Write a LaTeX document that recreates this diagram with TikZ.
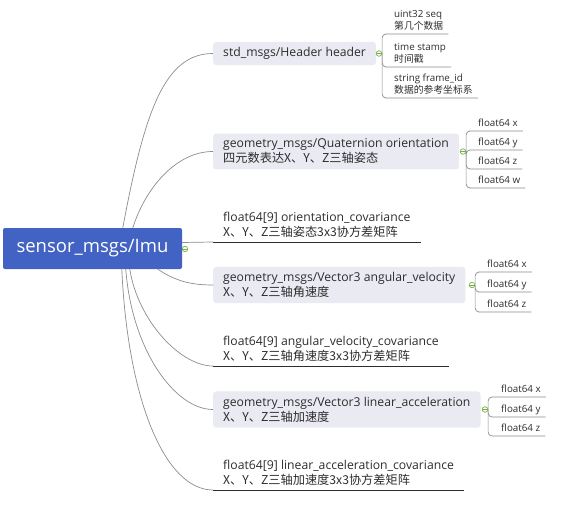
\documentclass[tikz,border=0pt]{standalone}
\usepackage{fontspec}
\setmainfont{Open Sans}
\newfontfamily\cjk{Noto Sans CJK SC}
\usetikzlibrary{calc}
\definecolor{rootblue}{RGB}{66,98,196}
\definecolor{boxgray}{RGB}{234,234,242}
\definecolor{inkgray}{RGB}{45,45,45}
\definecolor{limbgray}{RGB}{140,140,140}
\definecolor{foldgreen}{RGB}{118,176,65}
\tikzset{%
	rootbox/.style   = {rectangle, rounded corners=2pt, fill=rootblue, text=white, minimum width=179pt, minimum height=41pt, font=\fontsize{18.5}{22}\selectfont},
	branchbox/.style = {rectangle, rounded corners=3pt, fill=boxgray, text=inkgray, align=left, inner xsep=10pt, inner ysep=5.5pt, font=\fontsize{12.2}{15}\selectfont},
	covnode/.style   = {rectangle, text=inkgray, align=left, inner xsep=10pt, inner ysep=1pt, font=\fontsize{12.2}{15}\selectfont, execute at end node=\strut},
	kid/.style       = {rectangle, text=inkgray, align=left, inner xsep=5pt, inner ysep=0.3pt, font=\fontsize{9.8}{12.5}\selectfont, execute at end node=\strut},
	fold/.style      = {circle, draw=foldgreen, fill=white, line width=0.7pt, minimum size=5.5pt, inner sep=0pt, path picture={\draw[foldgreen, line width=0.6pt] (path picture bounding box.west) -- (path picture bounding box.east);}},
	limb/.style      = {draw=limbgray, line width=0.7pt},
	twig/.style      = {draw=limbgray, line width=0.7pt, rounded corners=4pt},
	underline/.style = {draw=inkgray, line width=1pt},
}
\begin{document}
\begin{tikzpicture}[x=1pt,y=-1pt]
	\useasboundingbox (0,0) rectangle (567,505);
	
	% root and first level
	\node[rootbox] (root) at (92.5,248.5) {sensor\_msgs/Imu};
	\node[branchbox, anchor=west] (hdr) at (213,53.5) {std\_msgs/Header header};
	\node[branchbox, anchor=west] (quat) at (213,151.5) {geometry\_msgs/Quaternion orientation\\{\cjk 四元数表达X、Y、Z三轴姿态}};
	\node[covnode, anchor=south west] (ocov) at (213,242) {float64[9] orientation\_covariance\\{\cjk X、Y、Z三轴姿态3x3协方差矩阵}};
	\node[branchbox, anchor=west] (avel) at (213,285) {geometry\_msgs/Vector3 angular\_velocity\\{\cjk X、Y、Z三轴角速度}};
	\node[covnode, anchor=south west] (avcov) at (213,366) {float64[9] angular\_velocity\_covariance\\{\cjk X、Y、Z三轴角速度3x3协方差矩阵}};
	\node[branchbox, anchor=west] (lacc) at (213,409.5) {geometry\_msgs/Vector3 linear\_acceleration\\{\cjk X、Y、Z三轴加速度}};
	\node[covnode, anchor=south west] (lacov) at (213,490) {float64[9] linear\_acceleration\_covariance\\{\cjk X、Y、Z三轴加速度3x3协方差矩阵}};
	
	% second level
	\node[kid, anchor=south west] (hk1) at (389,34) {uint32 seq\\{\cjk 第几个数据}};
	\node[kid, anchor=south west] (hk2) at (389,67) {time stamp\\{\cjk 时间戳}};
	\node[kid, anchor=south west] (hk3) at (389,98) {string frame\_id\\{\cjk 数据的参考坐标系}};
	\foreach \c/\u in {x/131,y/150,z/169,w/188}
		\node[kid, anchor=south west] (q\c) at (473,\u) {float64 \c};
	\foreach \c/\u in {x/272,y/292,z/312}
		\node[kid, anchor=south west] (a\c) at (482,\u) {float64 \c};
	\foreach \c/\u in {x/397,y/417,z/436}
		\node[kid, anchor=south west] (l\c) at (496,\u) {float64 \c};
	
	% curves from the root
	\draw[limb] ([xshift=120pt]root.north west) .. controls +(22,-118) and +(-48,0) .. (hdr.west);
	\draw[limb] ([xshift=130pt]root.north west) .. controls +(12,-38) and +(-38,0) .. (quat.west);
	\draw[limb] ([yshift=6pt]root.east) .. controls +(15,0) and +(-15,0) .. (ocov.south west);
	\draw[limb] ([xshift=155pt]root.south west) .. controls +(18,12) and +(-22,0) .. (avel.west);
	\draw[limb] ([xshift=127pt]root.south west) .. controls +(8,51) and +(-33,0) .. (avcov.south west);
	\draw[limb] ([xshift=123pt]root.south west) .. controls +(6,81) and +(-38,0) .. (lacc.west);
	\draw[limb] ([xshift=119pt]root.south west) .. controls +(6,131) and +(-48,0) .. (lacov.south west);
	\foreach \n in {ocov,avcov,lacov}
		\draw[underline] (\n.south west) -- (\n.south east);
	
	% fold marks
	\node[fold] (rfold) at (185,249) {};
	\node[fold] (hfold) at (379,53.5) {};
	\node[fold] (qfold) at (463,151.5) {};
	\node[fold] (afold) at (472,285) {};
	\node[fold] (lfold) at (485,409.5) {};
	
	% brackets to the leaves
	\foreach \n in {hk1,hk2,hk3}
		\draw[twig] (hfold.east) |- (\n.south west) -- (\n.south east);
	\foreach \c in {x,y,z,w}
		\draw[twig] (qfold.east) |- (q\c.south west) -- (q\c.south east);
	\foreach \c in {x,y,z}
		\draw[twig] (afold.east) |- (a\c.south west) -- (a\c.south east);
	\foreach \c in {x,y,z}
		\draw[twig] (lfold.east) |- (l\c.south west) -- (l\c.south east);
\end{tikzpicture}
\end{document}
